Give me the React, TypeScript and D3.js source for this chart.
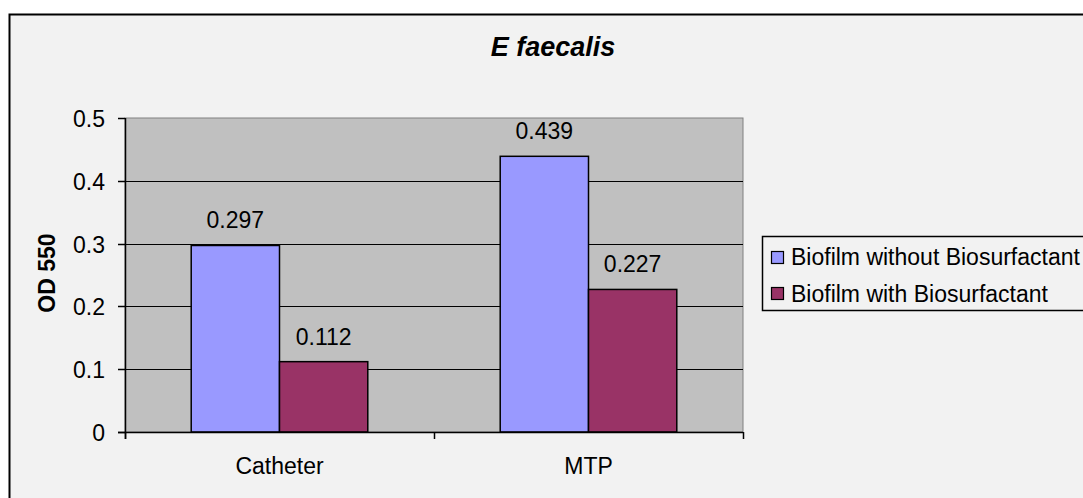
import React from "react";
import * as d3 from "d3";

const categories = ["Catheter", "MTP"];
const seriesNames = ["Biofilm without Biosurfactant", "Biofilm with Biosurfactant"];
const withoutValues = [0.297, 0.439];
const withValues = [0.112, 0.227];
const yTicks = [0, 0.1, 0.2, 0.3, 0.4, 0.5];
const colors = ["#9999ff", "#993366"];

export default function App() {
  const W = 1083, H = 498;
  const left = 125, right = 743, top = 118, bottom = 432;
  const x = d3.scaleBand<string>().domain(categories).range([left, right]).padding(0);
  const y = d3.scaleLinear().domain([0, 0.5]).range([bottom, top]);
  const bw = x.bandwidth() / 3.5;
  const series = [withoutValues, withValues];
  const font = "Arial, 'Liberation Sans', sans-serif";
  const fs = 23;
  return (
    <svg width={W} height={H} style={{ position: "absolute", left: 0, top: 0 }} fontFamily={font}>
      <rect x={9.5} y={14.5} width={1080} height={490} fill="#f2f2f2" stroke="#000" strokeWidth={2} />
      <rect x={left} y={top} width={right - left} height={bottom - top} fill="#c0c0c0" stroke="#808080" strokeWidth={1} />
      {yTicks.slice(1, -1).map((t) => (
        <line key={t} x1={left} x2={right} y1={Math.round(y(t)) + 0.5} y2={Math.round(y(t)) + 0.5} stroke="#000" />
      ))}
      {categories.map((c, ci) =>
        series.map((s, si) => {
          const bx = (x(c) as number) + bw * 0.75 + si * bw;
          return (
            <g key={c + si}>
              <rect x={bx} y={y(s[ci])} width={bw} height={bottom - y(s[ci])} fill={colors[si]} stroke="#000" strokeWidth={1.5} />
              <text x={bx + bw / 2} y={y(s[ci]) - 17} textAnchor="middle" fontSize={fs} fill="#000">{s[ci]}</text>
            </g>
          );
        })
      )}
      <line x1={left + 0.5} x2={left + 0.5} y1={top} y2={bottom + 7} stroke="#000" strokeWidth={1.5} />
      <line x1={left - 7} x2={right} y1={bottom + 0.5} y2={bottom + 0.5} stroke="#000" strokeWidth={1.5} />
      {yTicks.map((t) => (
        <g key={t}>
          <line x1={left - 7} x2={left} y1={Math.round(y(t)) + 0.5} y2={Math.round(y(t)) + 0.5} stroke="#000" strokeWidth={1.5} />
          <text x={left - 20} y={y(t) + 9} textAnchor="end" fontSize={fs} fill="#000">{t}</text>
        </g>
      ))}
      {[...categories.map((c) => x(c) as number), right].map((v, i) => (
        <line key={i} x1={v + 0.5} x2={v + 0.5} y1={bottom} y2={bottom + 7} stroke="#000" strokeWidth={1.5} />
      ))}
      {categories.map((c) => (
        <text key={c} x={(x(c) as number) + x.bandwidth() / 2} y={474} textAnchor="middle" fontSize={fs} fill="#000">{c}</text>
      ))}
      <text x={553} y={56} textAnchor="middle" fontSize={27} fontWeight="bold" fontStyle="italic" fill="#000">E faecalis</text>
      <text transform="translate(55,273) rotate(-90)" textAnchor="middle" fontSize={fs} fontWeight="bold" fill="#000">OD 550</text>
      <rect x={762.5} y={236.5} width={330} height={74} fill="#f2f2f2" stroke="#000" strokeWidth={1.5} />
      {seriesNames.map((n, i) => (
        <g key={n}>
          <rect x={771.5} y={251.5 + i * 36} width={12} height={12} fill={colors[i]} stroke="#000" strokeWidth={1.2} />
          <text x={791} y={265 + i * 37} fontSize={fs} fill="#000">{n}</text>
        </g>
      ))}
    </svg>
  );
}
